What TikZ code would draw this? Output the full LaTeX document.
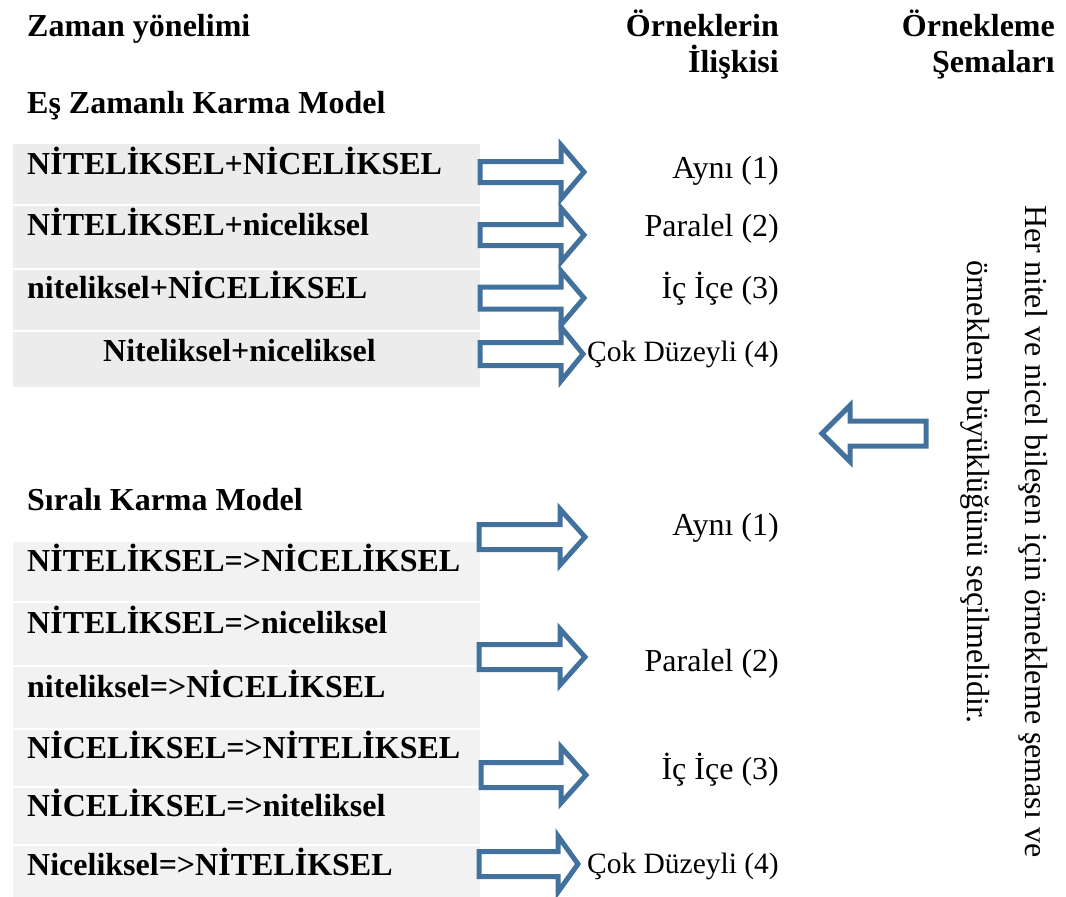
\documentclass[tikz,border=0pt]{standalone}
\usepackage{fontspec}
\setmainfont{Liberation Serif}
\definecolor{rowtop}{RGB}{236,236,236}
\definecolor{rowbot}{RGB}{242,242,242}
\definecolor{arrowblue}{RGB}{65,113,156}

% hollow block arrow pointing right: left x, head-base x, tip x, mid y, shaft half, head half
\newcommand{\rblock}[6]{%
  \draw[blockarrow] (#1,#4-#5) -- (#2,#4-#5) -- (#2,#4-#6) -- (#3,#4)
    -- (#2,#4+#6) -- (#2,#4+#5) -- (#1,#4+#5) -- cycle;}
% hollow block arrow pointing left: right x, head-base x, tip x, mid y, shaft half, head half
\newcommand{\lblock}[6]{%
  \draw[blockarrow] (#1,#4-#5) -- (#2,#4-#5) -- (#2,#4-#6) -- (#3,#4)
    -- (#2,#4+#6) -- (#2,#4+#5) -- (#1,#4+#5) -- cycle;}

\begin{document}
\begin{tikzpicture}[x=1pt,y=-1pt,
  plain/.style={inner sep=0pt, font=\fontsize{32}{38}\selectfont},
  small/.style={inner sep=0pt, font=\fontsize{29.5}{35}\selectfont},
  heavy/.style={inner sep=0pt, font=\fontsize{32}{38}\selectfont\bfseries},
  blockarrow/.style={draw=arrowblue, line width=5pt, line join=miter},
]
\useasboundingbox (0,0) rectangle (1066,897);

% shaded rows, simultaneous model
\fill[rowtop] (13,144) rectangle (480,204);
\fill[rowtop] (13,206) rectangle (480,268);
\fill[rowtop] (13,270) rectangle (480,330);
\fill[rowtop] (13,332) rectangle (480,387);
% shaded rows, sequential model
\fill[rowbot] (13,542) rectangle (480,601);
\fill[rowbot] (13,603) rectangle (480,665);
\fill[rowbot] (13,667) rectangle (480,728);
\fill[rowbot] (13,730) rectangle (480,786);
\fill[rowbot] (13,788) rectangle (480,844);
\fill[rowbot] (13,846) rectangle (480,897);

% column headings
\node[heavy, anchor=base west] (h1) at (27,36) {Zaman yönelimi};
\node[heavy, anchor=base east] (h2a) at (779,36) {Örneklerin};
\node[heavy, anchor=base east] (h2b) at (779,72) {İlişkisi};
\node[heavy, anchor=base east] (h3a) at (1055,36) {Örnekleme};
\node[heavy, anchor=base east] (h3b) at (1055,72) {Şemaları};

% simultaneous mixed model
\node[heavy, anchor=base west] (es) at (27,113) {Eş Zamanlı Karma Model};
\node[heavy, anchor=base west] (e1) at (27,174) {NİTELİKSEL+NİCELİKSEL};
\node[heavy, anchor=base west] (e2) at (27,235) {NİTELİKSEL+niceliksel};
\node[heavy, anchor=base west] (e3) at (27,298) {niteliksel+NİCELİKSEL};
\node[heavy, anchor=base west] (e4) at (103,361) {Niteliksel+niceliksel};

\node[plain, anchor=base east] (r1) at (779,178) {Aynı (1)};
\node[plain, anchor=base east] (r2) at (779,236) {Paralel (2)};
\node[plain, anchor=base east] (r3) at (779,298) {İç İçe (3)};
\node[small, anchor=base east] (r4) at (779,361) {Çok Düzeyli (4)};

\rblock{480}{561}{584}{172}{10.5}{27}
\rblock{480}{561}{584}{235}{10.5}{27}
\rblock{480}{561}{584}{298}{11}{27}
\rblock{480}{561}{583}{354}{11.5}{27}

% sequential mixed model
\node[heavy, anchor=base west] (ss) at (27,510) {Sıralı Karma Model};
\node[heavy, anchor=base west] (s1) at (27,571) {NİTELİKSEL=>NİCELİKSEL};
\node[heavy, anchor=base west] (s2) at (27,633) {NİTELİKSEL=>niceliksel};
\node[heavy, anchor=base west] (s3) at (27,697) {niteliksel=>NİCELİKSEL};
\node[heavy, anchor=base west] (s4) at (27,758) {NİCELİKSEL=>NİTELİKSEL};
\node[heavy, anchor=base west] (s5) at (27,816) {NİCELİKSEL=>niteliksel};
\node[heavy, anchor=base west] (s6) at (27,875) {Niceliksel=>NİTELİKSEL};

\node[plain, anchor=base east] (q1) at (779,535) {Aynı (1)};
\node[plain, anchor=base east] (q2) at (779,671) {Paralel (2)};
\node[plain, anchor=base east] (q3) at (779,779) {İç İçe (3)};
\node[small, anchor=base east] (q4) at (779,873) {Çok Düzeyli (4)};

\rblock{479}{560}{585}{537}{12.5}{28}
\rblock{479}{560}{585}{657}{12.5}{28}
\rblock{481}{561}{586}{775}{12.5}{28}
\rblock{479}{558}{578}{864}{12.5}{28}

% sampling scheme note
\lblock{926}{850}{822}{433.5}{12.5}{28}
\node[plain, rotate=-90, anchor=base west] (n1) at (1025,205)
  {Her nitel ve nicel bileşen için örnekleme şeması ve};
\node[plain, rotate=-90, anchor=base west] (n2) at (967,260)
  {örneklem büyüklüğünü seçilmelidir.};
\end{tikzpicture}
\end{document}
